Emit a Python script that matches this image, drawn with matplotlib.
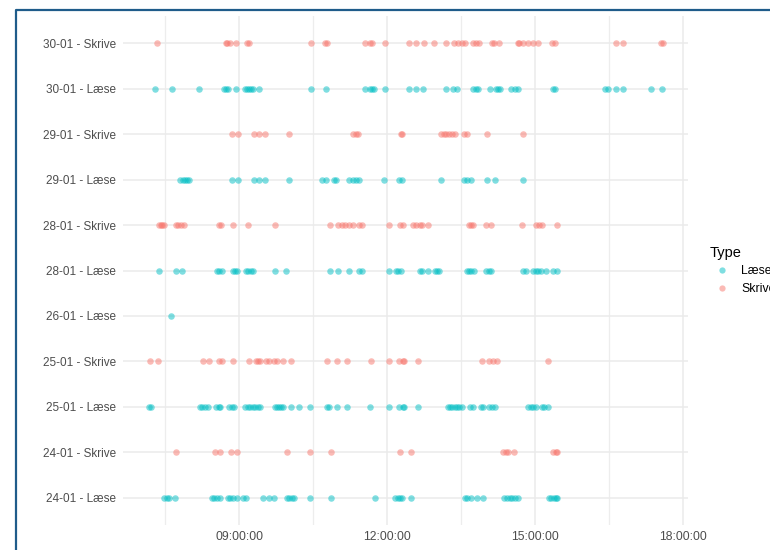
import matplotlib
matplotlib.use("Agg")
import matplotlib.pyplot as plt
from matplotlib.lines import Line2D
from matplotlib.ticker import FixedLocator, FuncFormatter

plt.rcParams['font.family'] = ['Liberation Sans', 'DejaVu Sans']

# Categories, bottom to top
categories = ["24-01 - Læse", "24-01 - Skrive", "25-01 - Læse", "25-01 - Skrive",
              "26-01 - Læse", "28-01 - Læse", "28-01 - Skrive", "29-01 - Læse",
              "29-01 - Skrive", "30-01 - Læse", "30-01 - Skrive"]
category_type = ["Læse", "Skrive", "Læse", "Skrive", "Læse", "Læse", "Skrive",
                 "Læse", "Skrive", "Læse", "Skrive"]

# Event times (decimal hours of the day) per category
t_24_laese = [7.47, 7.53, 7.57, 7.70, 8.44, 8.49, 8.54, 8.60, 8.77, 8.82, 8.88, 8.96,
              9.07, 9.13, 9.49, 9.60, 9.71, 9.96, 10.01, 10.06, 10.11, 10.43, 10.85,
              11.76, 12.16, 12.21, 12.26, 12.30, 12.49, 13.58, 13.62, 13.69, 13.81,
              13.95, 14.37, 14.42, 14.48, 14.53, 14.59, 14.64, 15.28, 15.32, 15.37,
              15.41, 15.45]
t_24_skrive = [7.71, 8.50, 8.60, 8.84, 8.95, 9.97, 10.44, 10.85, 12.26, 12.49,
               14.34, 14.40, 14.44, 14.56, 15.36, 15.41, 15.45]
t_25_laese = [7.16, 7.21, 8.20, 8.25, 8.30, 8.37, 8.53, 8.58, 8.61, 8.79, 8.85, 8.89,
              9.12, 9.17, 9.22, 9.27, 9.32, 9.37, 9.42, 9.72, 9.76, 9.81, 9.85, 9.89,
              10.05, 10.20, 10.43, 10.78, 10.82, 10.99, 11.19, 11.65, 12.03, 12.24,
              12.31, 12.33, 12.63, 13.24, 13.28, 13.32, 13.37, 13.42, 13.46, 13.51,
              13.68, 13.74, 13.89, 13.95, 14.07, 14.12, 14.19, 14.86, 14.91, 14.96,
              15.02, 15.13, 15.18, 15.26]
t_25_skrive = [7.19, 7.35, 8.27, 8.39, 8.59, 8.64, 8.87, 9.19, 9.34, 9.38, 9.42, 9.54,
               9.61, 9.70, 9.76, 9.89, 10.05, 10.78, 10.99, 11.19, 11.66, 12.03, 12.24,
               12.31, 12.33, 12.63, 13.92, 14.07, 14.15, 14.23, 15.26]
t_26_laese = [7.61]
t_28_laese = [7.38, 7.72, 7.84, 8.54, 8.59, 8.64, 8.87, 8.91, 8.96, 9.14, 9.18, 9.23,
              9.28, 9.73, 9.95, 10.84, 11.00, 11.22, 11.43, 11.48, 12.04, 12.18, 12.22,
              12.27, 12.66, 12.71, 12.82, 12.96, 13.01, 13.05, 13.61, 13.66, 13.70,
              13.76, 14.00, 14.06, 14.11, 14.76, 14.82, 14.95, 15.01, 15.06, 15.11,
              15.22, 15.36, 15.44]
t_28_skrive = [7.37, 7.41, 7.44, 7.48, 7.72, 7.76, 7.82, 7.87, 8.58, 8.63, 8.87, 9.18,
               9.72, 10.84, 11.01, 11.09, 11.14, 11.23, 11.31, 11.43, 11.48, 12.04,
               12.26, 12.31, 12.52, 12.58, 12.67, 12.71, 12.82, 13.65, 13.69, 13.74,
               14.00, 14.11, 14.74, 15.02, 15.07, 15.13, 15.45]
t_29_laese = [7.80, 7.85, 7.89, 7.93, 7.97, 8.85, 8.98, 9.30, 9.39, 9.53, 10.01, 10.68,
              10.76, 10.91, 10.97, 11.23, 11.31, 11.37, 11.42, 11.93, 12.24, 12.29,
              13.08, 13.55, 13.61, 13.69, 14.03, 14.18, 14.75]
t_29_skrive = [8.85, 8.97, 9.30, 9.39, 9.53, 10.01, 11.31, 11.37, 11.41, 12.28, 12.30,
               13.09, 13.15, 13.20, 13.26, 13.32, 13.37, 13.55, 13.61, 14.03, 14.75]
t_30_laese = [7.30, 7.63, 8.18, 8.68, 8.73, 8.78, 8.94, 9.12, 9.16, 9.19, 9.23, 9.28,
              9.39, 10.45, 10.75, 11.55, 11.65, 11.70, 11.74, 11.95, 12.44, 12.58,
              12.73, 13.20, 13.34, 13.42, 13.74, 13.79, 13.84, 14.08, 14.20, 14.24,
              14.29, 14.50, 14.58, 14.64, 15.36, 15.39, 16.41, 16.47, 16.63, 16.78,
              17.35, 17.56]
t_30_skrive = [7.33, 8.72, 8.76, 8.81, 8.94, 9.15, 9.20, 10.45, 10.74, 10.77, 11.55,
               11.65, 11.68, 11.95, 12.44, 12.59, 12.74, 12.94, 13.20, 13.36, 13.44,
               13.51, 13.58, 13.74, 13.80, 13.85, 14.12, 14.17, 14.27, 14.64, 14.68,
               14.76, 14.86, 14.96, 15.05, 15.34, 15.39, 16.63, 16.78, 17.54, 17.58]

times = [t_24_laese, t_24_skrive, t_25_laese, t_25_skrive, t_26_laese, t_28_laese,
         t_28_skrive, t_29_laese, t_29_skrive, t_30_laese, t_30_skrive]

type_names = ["Læse", "Skrive"]
type_colors = {"Læse": "#00BFC4", "Skrive": "#F8766D"}

W, H = 770, 550
fig = plt.figure(figsize=(W / 100, H / 100), dpi=100)
fig.patch.set_facecolor("white")
L, R, T, B = 123, 688, 16, 525
ax = fig.add_axes([L / W, 1 - B / H, (R - L) / W, (B - T) / H])
ax.set_facecolor("white")

for i, (ts, typ) in enumerate(zip(times, category_type)):
    ax.scatter(ts, [i] * len(ts), s=22, color=type_colors[typ], alpha=0.5,
               linewidths=0, zorder=3)

ax.set_xlim(6.642, 18.096)
ax.set_ylim(-0.6, len(categories) - 1 + 0.6)

ax.xaxis.set_major_locator(FixedLocator([9, 12, 15, 18]))
ax.xaxis.set_minor_locator(FixedLocator([7.5, 10.5, 13.5, 16.5]))
ax.xaxis.set_major_formatter(FuncFormatter(lambda v, p: f"{int(v):02d}:00:00"))
ax.set_yticks(range(len(categories)))
ax.set_yticklabels(categories)

ax.grid(which="major", axis="both", color="#EBEBEB", linewidth=1.1, zorder=0)
ax.grid(which="minor", axis="x", color="#EDEDED", linewidth=0.9, zorder=0)
ax.set_axisbelow(True)
for s in ax.spines.values():
    s.set_visible(False)
ax.tick_params(which="both", length=0)
ax.tick_params(axis="y", pad=5, labelsize=8.5, labelcolor="#4D4D4D")
ax.tick_params(axis="x", pad=4, labelsize=8.8, labelcolor="#4D4D4D")

handles = [Line2D([], [], marker="o", linestyle="none", markersize=4.5,
                  markerfacecolor=type_colors[t], markeredgewidth=0, alpha=0.5)
           for t in type_names]
leg = fig.legend(handles, type_names, title="Type", loc="upper left",
                 bbox_to_anchor=(705 / W, 1 - 241 / H), frameon=False,
                 fontsize=8.8, title_fontsize=10.5, handlelength=1.95,
                 handletextpad=0.6, labelspacing=0.45, borderaxespad=0)
leg._legend_box.align = "left"

# blue frame of the screenshot
fig.add_artist(Line2D([16 / W, 16 / W, 1.0], [0.0, 1 - 10 / H, 1 - 10 / H],
                      transform=fig.transFigure, color="#1F5C8A", linewidth=1.6))

fig.savefig("out.png", dpi=100, facecolor="white")
